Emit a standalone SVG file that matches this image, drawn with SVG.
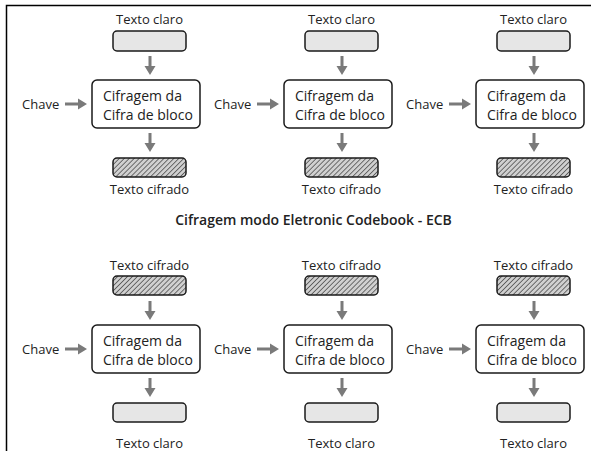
<svg xmlns="http://www.w3.org/2000/svg" width="591" height="451" viewBox="0 0 591 451">
<style>
text{font-family:"Open Sans","Noto Sans","DejaVu Sans",sans-serif;font-size:13px;fill:#222}
.c{text-anchor:middle}
.b{font-size:14px}
.t{font-weight:600;font-size:14px}
.box{stroke:#1a1a1a;stroke-width:1.5;fill:#fff}
.clear{stroke:#1a1a1a;stroke-width:1.5;fill:#e6e6e6}
.hat{stroke:#1a1a1a;stroke-width:1.5;fill:url(#hatch)}
.arr{fill:#7a7a7a}
</style>
<defs>
<pattern id="hatch" patternUnits="userSpaceOnUse" width="3.5" height="3.5" patternTransform="rotate(45)">
<rect width="3.5" height="3.5" fill="#d0d0d0"/>
<line x1="0" y1="0" x2="0" y2="3.5" stroke="#333" stroke-width="1.3"/>
</pattern>
<path id="ad" d="M-1.5,0 h3 v10 h4 l-5.5,9 l-5.5,-9 h4 z"/>
<path id="ar" d="M0,-1.5 v3 h13 v4 l9,-5.5 l-9,-5.5 v4 z"/>
</defs>
<path d="M6.5,451 V5.5 H591" fill="none" stroke="#000" stroke-width="1.5"/>
<text class="c t" x="313.5" y="225">Cifragem modo Eletronic Codebook - ECB</text>

<g id="enc1">
<text class="c" x="149.5" y="23.5">Texto claro</text>
<rect class="clear" x="113" y="31" width="73" height="20" rx="4"/>
<rect class="box" x="92" y="80" width="108" height="48" rx="5"/>
<text class="b" x="103" y="101">Cifragem da</text>
<text class="b" x="103" y="119.5">Cifra de bloco</text>
<text x="22" y="109">Chave</text>
<rect class="hat" x="113" y="158" width="73" height="19" rx="4"/>
<text class="c" x="149.5" y="194">Texto cifrado</text>
</g>
<g id="enc2" transform="translate(192,0)">
<text class="c" x="149.5" y="23.5">Texto claro</text>
<rect class="clear" x="113" y="31" width="73" height="20" rx="4"/>
<rect class="box" x="92" y="80" width="108" height="48" rx="5"/>
<text class="b" x="103" y="101">Cifragem da</text>
<text class="b" x="103" y="119.5">Cifra de bloco</text>
<text x="22" y="109">Chave</text>
<rect class="hat" x="113" y="158" width="73" height="19" rx="4"/>
<text class="c" x="149.5" y="194">Texto cifrado</text>
</g>
<g id="enc3" transform="translate(384,0)">
<text class="c" x="149.5" y="23.5">Texto claro</text>
<rect class="clear" x="113" y="31" width="73" height="20" rx="4"/>
<rect class="box" x="92" y="80" width="108" height="48" rx="5"/>
<text class="b" x="103" y="101">Cifragem da</text>
<text class="b" x="103" y="119.5">Cifra de bloco</text>
<text x="22" y="109">Chave</text>
<rect class="hat" x="113" y="158" width="73" height="19" rx="4"/>
<text class="c" x="149.5" y="194">Texto cifrado</text>
</g>

<g id="dec1" transform="translate(0,245)">
<text class="c" x="149.5" y="25">Texto cifrado</text>
<rect class="hat" x="113" y="31" width="73" height="19" rx="4"/>
<rect class="box" x="92" y="80" width="108" height="48" rx="5"/>
<text class="b" x="103" y="101">Cifragem da</text>
<text class="b" x="103" y="119.5">Cifra de bloco</text>
<text x="22" y="109">Chave</text>
<rect class="clear" x="113" y="158" width="73" height="19" rx="4"/>
<text class="c" x="149.5" y="202.5">Texto claro</text>
</g>
<g id="dec2" transform="translate(192,245)">
<text class="c" x="149.5" y="25">Texto cifrado</text>
<rect class="hat" x="113" y="31" width="73" height="19" rx="4"/>
<rect class="box" x="92" y="80" width="108" height="48" rx="5"/>
<text class="b" x="103" y="101">Cifragem da</text>
<text class="b" x="103" y="119.5">Cifra de bloco</text>
<text x="22" y="109">Chave</text>
<rect class="clear" x="113" y="158" width="73" height="19" rx="4"/>
<text class="c" x="149.5" y="202.5">Texto claro</text>
</g>
<g id="dec3" transform="translate(384,245)">
<text class="c" x="149.5" y="25">Texto cifrado</text>
<rect class="hat" x="113" y="31" width="73" height="19" rx="4"/>
<rect class="box" x="92" y="80" width="108" height="48" rx="5"/>
<text class="b" x="103" y="101">Cifragem da</text>
<text class="b" x="103" y="119.5">Cifra de bloco</text>
<text x="22" y="109">Chave</text>
<rect class="clear" x="113" y="158" width="73" height="19" rx="4"/>
<text class="c" x="149.5" y="202.5">Texto claro</text>
</g>

<g id="connectors" class="arr">
<use href="#ad" x="150" y="56"/><use href="#ad" x="150" y="133"/><use href="#ar" x="65" y="104"/>
<use href="#ad" x="342" y="56"/><use href="#ad" x="342" y="133"/><use href="#ar" x="257" y="104"/>
<use href="#ad" x="534" y="56"/><use href="#ad" x="534" y="133"/><use href="#ar" x="449" y="104"/>
<use href="#ad" x="150" y="301"/><use href="#ad" x="150" y="378"/><use href="#ar" x="65" y="349"/>
<use href="#ad" x="342" y="301"/><use href="#ad" x="342" y="378"/><use href="#ar" x="257" y="349"/>
<use href="#ad" x="534" y="301"/><use href="#ad" x="534" y="378"/><use href="#ar" x="449" y="349"/>
</g>
</svg>
